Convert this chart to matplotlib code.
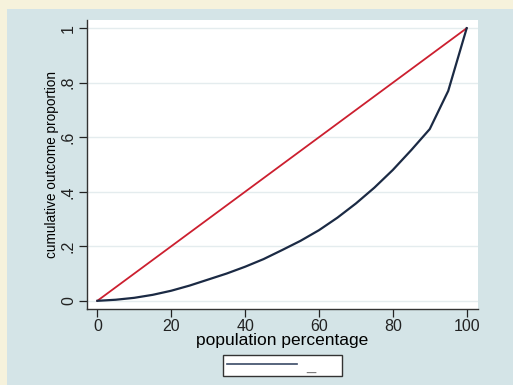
import matplotlib.pyplot as plt
from matplotlib.patches import Rectangle
from matplotlib.lines import Line2D

plt.rcParams['font.family'] = ['Liberation Sans', 'DejaVu Sans']

# Lorenz curve
pop_pct = [0, 5, 10, 15, 20, 25, 30, 35, 40, 45, 50, 55, 60, 65, 70, 75, 80, 85, 90, 95, 100]
cum_share = [0, 0.004, 0.011, 0.022, 0.037, 0.056, 0.078, 0.100, 0.125, 0.153, 0.186, 0.220,
             0.259, 0.305, 0.357, 0.415, 0.480, 0.553, 0.630, 0.770, 1.0]
equality_x = [0, 100]
equality_y = [0, 1]
yticks = [0, 0.2, 0.4, 0.6, 0.8, 1]
ytick_labels = ["0", ".2", ".4", ".6", ".8", "1"]
xticks = [0, 20, 40, 60, 80, 100]

fig = plt.figure(figsize=(5.13, 3.85), dpi=100, facecolor="#f6f2dc")
fig.patches.append(Rectangle((7 / 513, 0), 1, 1 - 9 / 385, transform=fig.transFigure,
                             facecolor="#d4e4e7", edgecolor="none", zorder=-10))

ax = fig.add_axes([87 / 513, 1 - 309 / 385, (478 - 87) / 513, (309 - 20) / 385])
ax.set_facecolor("white")
ax.plot(equality_x, equality_y, color="#cc1f2f", lw=1.3, zorder=3)
ax.plot(pop_pct, cum_share, color="#1b2a44", lw=1.6, zorder=3)

ax.set_xlim(-2.8, 103.06)
ax.set_ylim(-0.03, 1.03)
ax.set_xticks(xticks)
ax.set_yticks(yticks)
ax.set_yticklabels(ytick_labels, rotation=90, va="center")
ax.tick_params(labelsize=11.5, colors="#222222", length=6, width=0.9)
ax.tick_params(axis="x", pad=1)
ax.tick_params(axis="y", pad=2)
ax.grid(axis="y", color="#e4ecee", lw=1)
ax.set_axisbelow(True)
for s in ["top", "right"]:
    ax.spines[s].set_visible(False)
for s in ["left", "bottom"]:
    ax.spines[s].set_color("#333333")
    ax.spines[s].set_linewidth(1)

ax.set_xlabel("population percentage", fontsize=12.5, labelpad=-0.5)
ax.set_ylabel("cumulative outcome proportion", fontsize=9.8, labelpad=1)

handle = Line2D([], [], color="#3a4a66", lw=1.2)
fig.legend([handle], ["_     "], loc="center", bbox_to_anchor=(282.5 / 513, 1 - 365.5 / 385),
           frameon=True, fancybox=False, edgecolor="#333333", facecolor="white",
           framealpha=1, handlelength=4.2, fontsize=12, borderpad=0.2,
           handletextpad=0.55, borderaxespad=0, labelcolor="#777777")

fig.savefig("out.png", dpi=100, facecolor=fig.get_facecolor())
